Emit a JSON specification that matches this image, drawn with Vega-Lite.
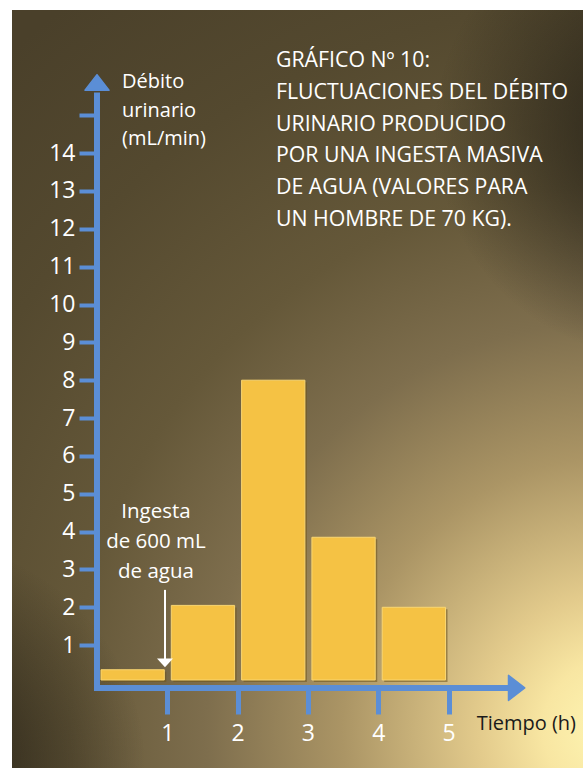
{
  "$schema": "https://vega.github.io/schema/vega-lite/v6.json",
  "width": 571,
  "height": 758,
  "autosize": {"type": "none"},
  "padding": {"left": 12, "top": 10, "right": 0, "bottom": 0},
  "background": "#ffffff",
  "config": {"view": {"stroke": null}, "font": "Open Sans", "axis": {"title": null, "grid": false, "domain": false, "labelFont": "Open Sans", "labelColor": "#ffffff", "tickColor": "#5b8ed6"}},
  "layer": [
    {
      "data": {"values": [{}]},
      "mark": {"type": "rect", "fill": {"gradient": "radial", "x1": 0.92, "y1": 0.95, "r1": 0, "x2": 0.92, "y2": 0.95, "r2": 1.2,
        "stops": [
          {"offset": 0, "color": "#fff7b4"},
          {"offset": 0.08, "color": "#f8e6a2"},
          {"offset": 0.15, "color": "#e3cb8c"},
          {"offset": 0.3, "color": "#ab9565"},
          {"offset": 0.45, "color": "#7e6e4d"},
          {"offset": 0.6, "color": "#655839"},
          {"offset": 0.8, "color": "#54492f"},
          {"offset": 1, "color": "#4a402a"}
        ]}},
      "encoding": {}
    },
    {
      "data": {"values": [{}]},
      "mark": {"type": "rect", "fill": {"gradient": "radial", "x1": 0.98, "y1": 0.16, "r1": 0, "x2": 0.98, "y2": 0.16, "r2": 0.3,
        "stops": [
          {"offset": 0, "color": "rgba(28,25,18,0.85)"},
          {"offset": 0.5, "color": "rgba(28,25,18,0.45)"},
          {"offset": 1, "color": "rgba(28,25,18,0)"}
        ]}},
      "encoding": {}
    },
    {
      "data": {"values": [{}]},
      "mark": {"type": "rect", "fill": {"gradient": "radial", "x1": 0, "y1": 1, "r1": 0, "x2": 0, "y2": 1, "r2": 0.3,
        "stops": [
          {"offset": 0, "color": "rgba(30,26,18,0.9)"},
          {"offset": 0.5, "color": "rgba(30,26,18,0.45)"},
          {"offset": 1, "color": "rgba(30,26,18,0)"}
        ]}},
      "encoding": {}
    },
    {
      "data": {"values": [
        {"inicio": 0, "fin": 1, "debito": 0.35},
        {"inicio": 1, "fin": 2, "debito": 2.05},
        {"inicio": 2, "fin": 3, "debito": 8},
        {"inicio": 3, "fin": 4, "debito": 3.85},
        {"inicio": 4, "fin": 5, "debito": 2}
      ]},
      "mark": {"type": "rect", "fill": "#6e531a", "opacity": 0.55, "xOffset": 6, "x2Offset": -1, "yOffset": 2, "y2Offset": -1},
      "encoding": {
        "x": {"field": "inicio", "type": "quantitative", "scale": {"domain": [-1.209, 6.913], "nice": false, "zero": false}},
        "x2": {"field": "fin"},
        "y": {"field": "debito", "type": "quantitative", "scale": {"domain": [-2.246, 17.781], "nice": false, "zero": false}},
        "y2": {"datum": 0}
      }
    },
    {
      "data": {"values": [
        {"inicio": 0, "fin": 1, "debito": 0.35},
        {"inicio": 1, "fin": 2, "debito": 2.05},
        {"inicio": 2, "fin": 3, "debito": 8},
        {"inicio": 3, "fin": 4, "debito": 3.85},
        {"inicio": 4, "fin": 5, "debito": 2}
      ]},
      "mark": {"type": "rect", "fill": "#f5c244", "stroke": "#f9d672", "strokeWidth": 1, "xOffset": 4, "x2Offset": -3, "y2Offset": -3},
      "encoding": {
        "x": {"field": "inicio", "type": "quantitative", "scale": {"domain": [-1.209, 6.913], "nice": false, "zero": false},
          "axis": {"values": [1, 2, 3, 4, 5], "format": "d", "domain": false, "grid": false, "ticks": true, "tickColor": "#5b8ed6", "tickWidth": 5, "tickSize": 26,
            "labelColor": "#ffffff", "labelFont": "Open Sans", "labelFontSize": 23, "labelPadding": 8, "labelOverlap": false, "labelFlush": false,
            "offset": -80, "title": null, "zindex": 1}},
        "x2": {"field": "fin"},
        "y": {"field": "debito", "type": "quantitative", "scale": {"domain": [-2.246, 17.781], "nice": false, "zero": false},
          "axis": {"values": [1, 2, 3, 4, 5, 6, 7, 8, 9, 10, 11, 12, 13, 14, 15], "format": "d", "labelExpr": "datum.value == 15 ? '' : datum.label",
            "domain": false, "grid": false, "ticks": true, "tickColor": "#5b8ed6", "tickWidth": 4, "tickSize": 18,
            "labelColor": "#ffffff", "labelFont": "Open Sans", "labelFontSize": 23, "labelPadding": 4, "labelOverlap": false, "labelFlush": false,
            "offset": -85, "title": null, "zindex": 1}},
        "y2": {"datum": 0}
      }
    },
    {
      "data": {"values": [{}]},
      "mark": {"type": "rule", "color": "#5b8ed6", "strokeWidth": 6},
      "encoding": {
        "x": {"datum": 0, "type": "quantitative", "scale": {"domain": [-1.209, 6.913], "nice": false, "zero": false}},
        "y": {"datum": -0.21, "type": "quantitative", "scale": {"domain": [-2.246, 17.781], "nice": false, "zero": false}},
        "y2": {"datum": 15.6}
      }
    },
    {
      "data": {"values": [{}]},
      "mark": {"type": "rule", "color": "#5b8ed6", "strokeWidth": 6},
      "encoding": {
        "x": {"datum": -0.04, "type": "quantitative", "scale": {"domain": [-1.209, 6.913], "nice": false, "zero": false}},
        "x2": {"datum": 5.85},
        "y": {"datum": -0.13, "type": "quantitative", "scale": {"domain": [-2.246, 17.781], "nice": false, "zero": false}}
      }
    },
    {
      "data": {"values": [{}]},
      "mark": {"type": "point", "shape": "M0,-0.7L1,0.6L-1,0.6Z", "size": 576, "filled": true, "opacity": 1, "color": "#5b8ed6", "stroke": "#5b8ed6", "strokeWidth": 1.5, "strokeJoin": "round"},
      "encoding": {
        "x": {"datum": 0, "type": "quantitative", "scale": {"domain": [-1.209, 6.913], "nice": false, "zero": false}},
        "y": {"datum": 15.85, "type": "quantitative", "scale": {"domain": [-2.246, 17.781], "nice": false, "zero": false}}
      }
    },
    {
      "data": {"values": [{}]},
      "mark": {"type": "point", "shape": "M0.7,0L-0.6,-1L-0.6,1Z", "size": 625, "filled": true, "opacity": 1, "color": "#5b8ed6", "stroke": "#5b8ed6", "strokeWidth": 1.5, "strokeJoin": "round"},
      "encoding": {
        "x": {"datum": 5.96, "type": "quantitative", "scale": {"domain": [-1.209, 6.913], "nice": false, "zero": false}},
        "y": {"datum": -0.13, "type": "quantitative", "scale": {"domain": [-2.246, 17.781], "nice": false, "zero": false}}
      }
    },
    {
      "data": {"values": [{}]},
      "mark": {"type": "rule", "color": "#ffffff", "strokeWidth": 2},
      "encoding": {
        "x": {"datum": 0.967, "type": "quantitative", "scale": {"domain": [-1.209, 6.913], "nice": false, "zero": false}},
        "y": {"datum": 2.46, "type": "quantitative", "scale": {"domain": [-2.246, 17.781], "nice": false, "zero": false}},
        "y2": {"datum": 0.62}
      }
    },
    {
      "data": {"values": [{}]},
      "mark": {"type": "point", "shape": "M-1,-0.5L1,-0.5L0,0.6Z", "size": 256, "filled": true, "opacity": 1, "color": "#ffffff"},
      "encoding": {
        "x": {"datum": 0.967, "type": "quantitative", "scale": {"domain": [-1.209, 6.913], "nice": false, "zero": false}},
        "y": {"datum": 0.54, "type": "quantitative", "scale": {"domain": [-2.246, 17.781], "nice": false, "zero": false}}
      }
    },
    {
      "data": {"values": [{"texto": "GRÁFICO Nº 10:\nFLUCTUACIONES DEL DÉBITO\nURINARIO PRODUCIDO\nPOR UNA INGESTA MASIVA\nDE AGUA (VALORES PARA\nUN HOMBRE DE 70 KG)."}]},
      "mark": {"type": "text", "align": "left", "baseline": "alphabetic", "lineBreak": "\n", "lineHeight": 31.7, "font": "Open Sans", "fontSize": 21.3, "color": "#ffffff"},
      "encoding": {
        "x": {"datum": 2.546, "type": "quantitative", "scale": {"domain": [-1.209, 6.913], "nice": false, "zero": false}},
        "y": {"datum": 16.27, "type": "quantitative", "scale": {"domain": [-2.246, 17.781], "nice": false, "zero": false}},
        "text": {"field": "texto"}
      }
    },
    {
      "data": {"values": [{"texto": "Débito\nurinario\n(mL/min)"}]},
      "mark": {"type": "text", "align": "left", "baseline": "alphabetic", "lineBreak": "\n", "lineHeight": 28.5, "font": "Open Sans", "fontSize": 20, "color": "#ffffff"},
      "encoding": {
        "x": {"datum": 0.356, "type": "quantitative", "scale": {"domain": [-1.209, 6.913], "nice": false, "zero": false}},
        "y": {"datum": 15.72, "type": "quantitative", "scale": {"domain": [-2.246, 17.781], "nice": false, "zero": false}},
        "text": {"field": "texto"}
      }
    },
    {
      "data": {"values": [{"texto": "Ingesta\nde 600 mL\nde agua"}]},
      "mark": {"type": "text", "align": "center", "baseline": "alphabetic", "lineBreak": "\n", "lineHeight": 30, "font": "Open Sans", "fontSize": 20.5, "color": "#ffffff"},
      "encoding": {
        "x": {"datum": 0.839, "type": "quantitative", "scale": {"domain": [-1.209, 6.913], "nice": false, "zero": false}},
        "y": {"datum": 4.36, "type": "quantitative", "scale": {"domain": [-2.246, 17.781], "nice": false, "zero": false}},
        "text": {"field": "texto"}
      }
    },
    {
      "data": {"values": [{"texto": "Tiempo (h)"}]},
      "mark": {"type": "text", "align": "left", "baseline": "alphabetic", "font": "Open Sans", "fontSize": 20, "color": "#1a1a1a"},
      "encoding": {
        "x": {"datum": 5.4, "type": "quantitative", "scale": {"domain": [-1.209, 6.913], "nice": false, "zero": false}},
        "y": {"datum": -1.24, "type": "quantitative", "scale": {"domain": [-2.246, 17.781], "nice": false, "zero": false}},
        "text": {"field": "texto"}
      }
    }
  ]
}
